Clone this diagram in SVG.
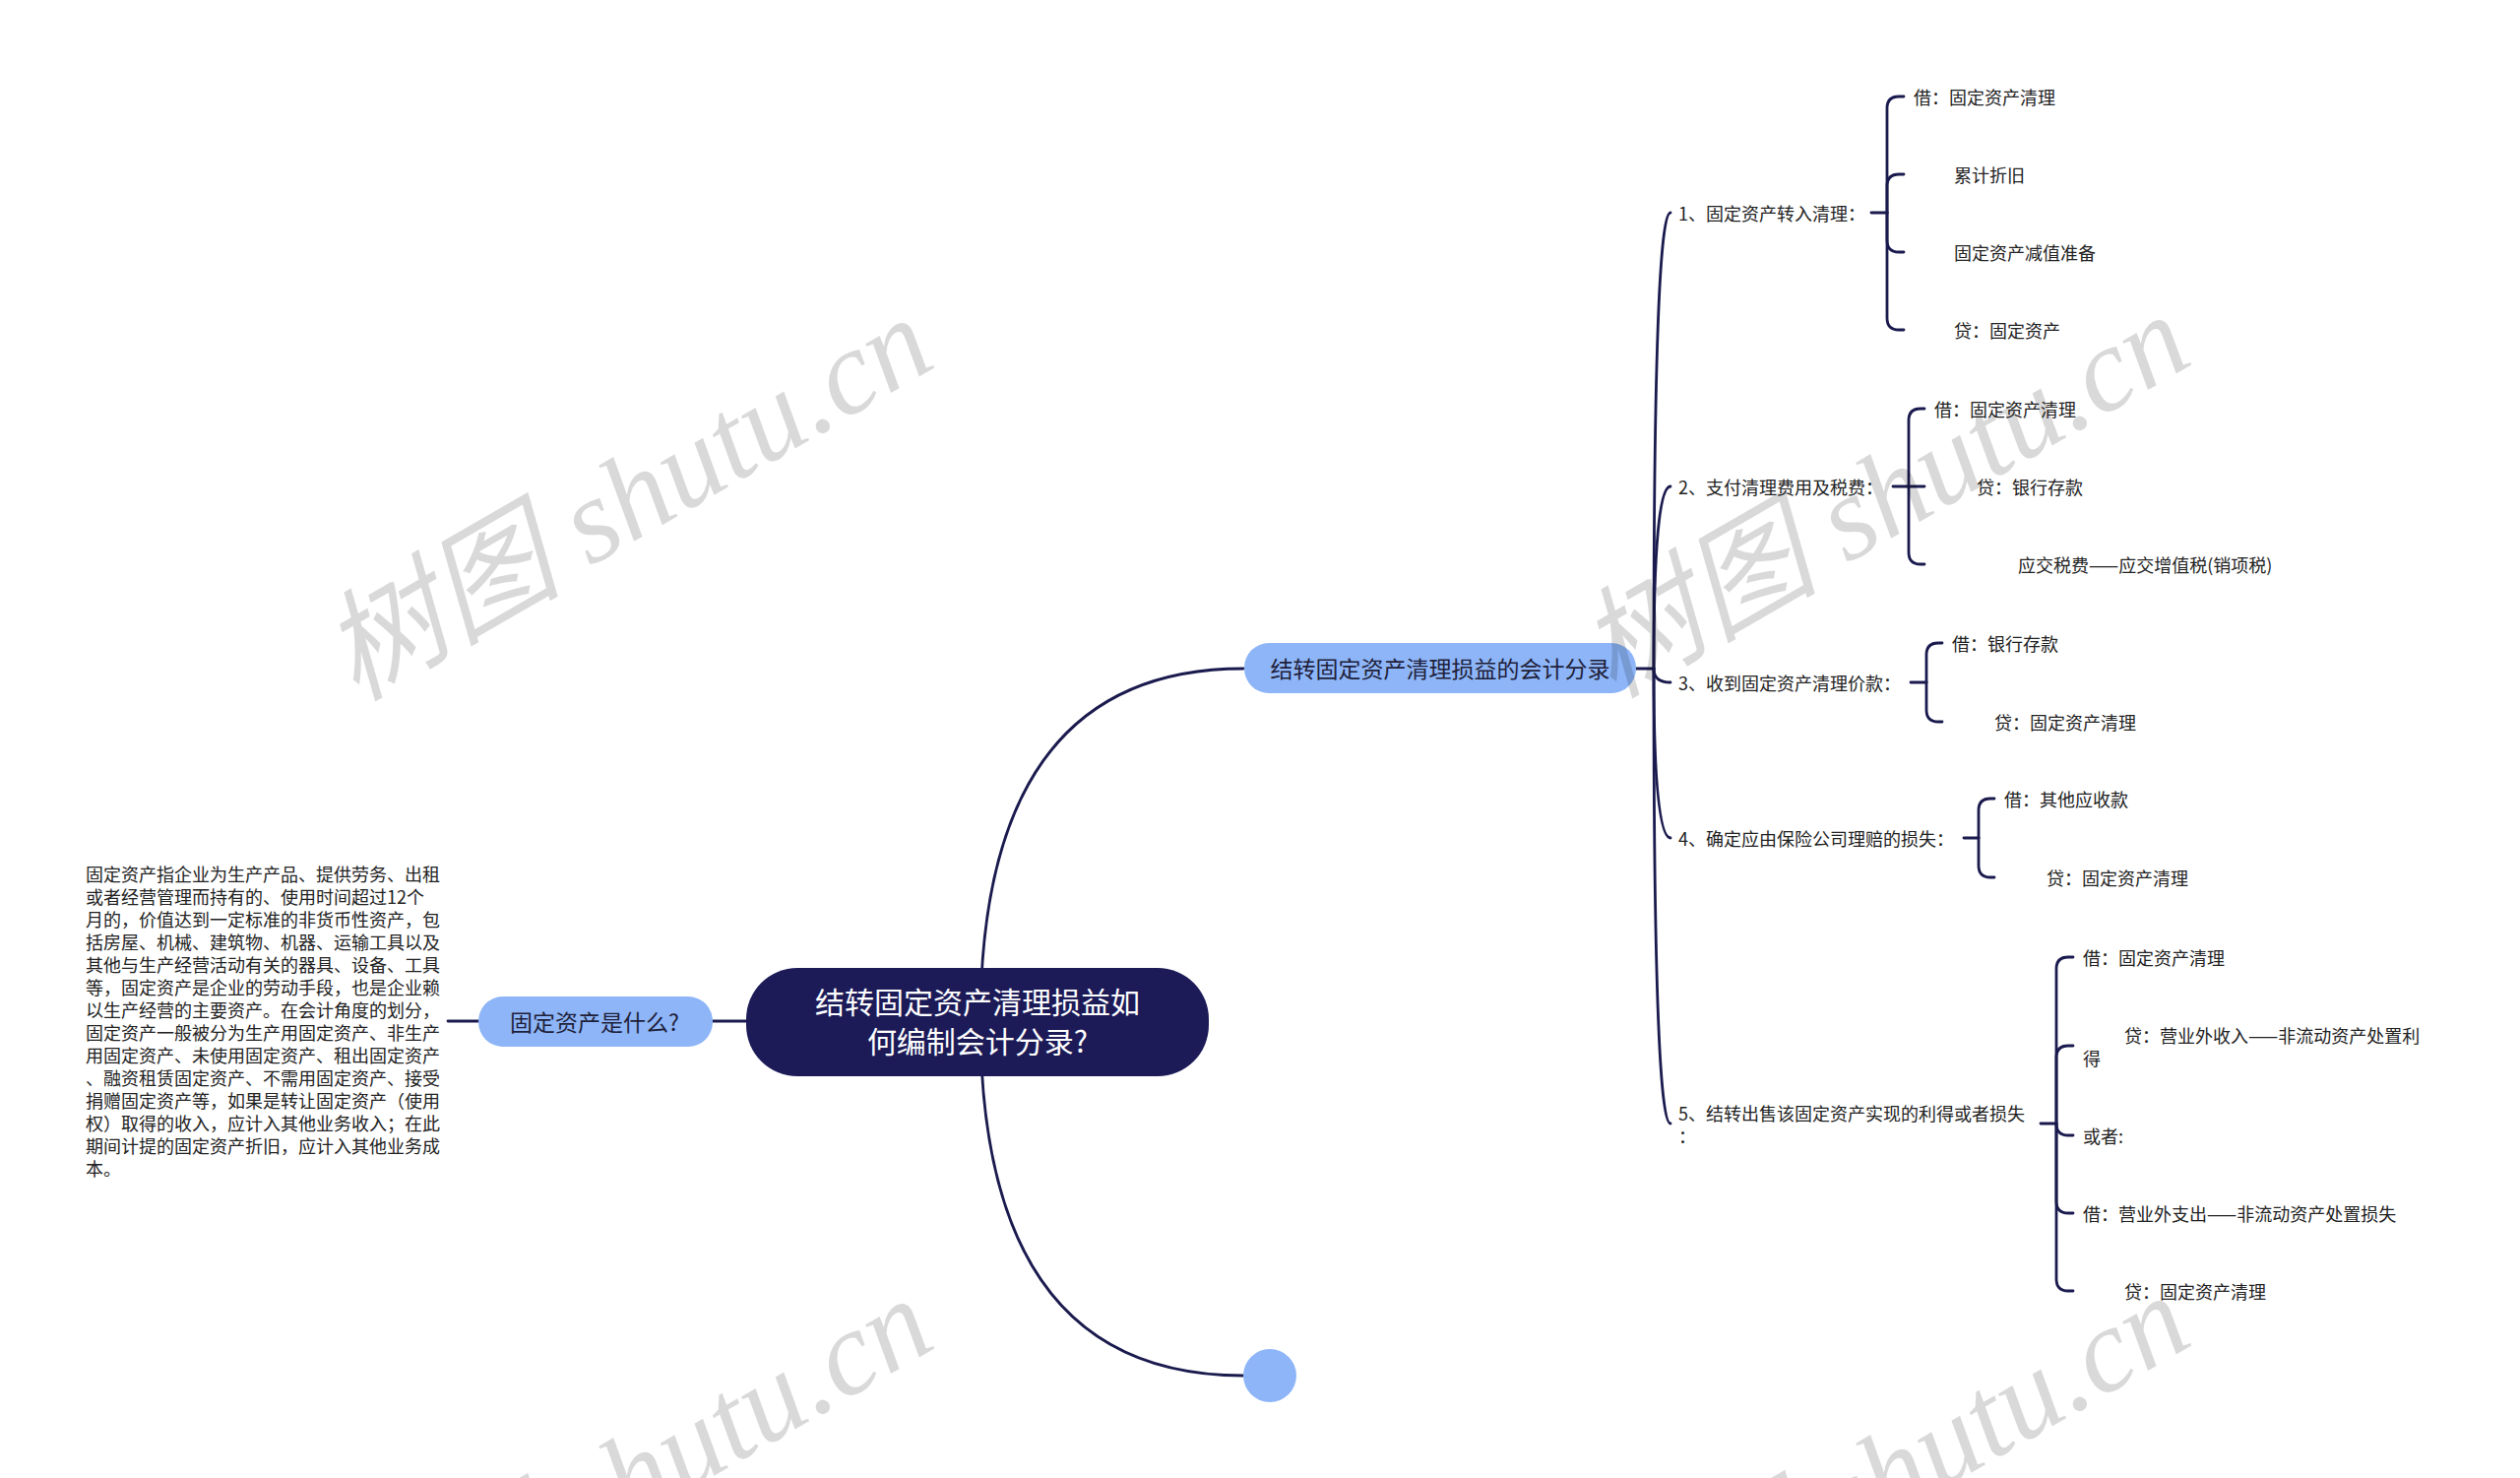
<svg xmlns="http://www.w3.org/2000/svg" width="2560" height="1501" viewBox="0 0 2560 1501">
<style>
.ln{fill:none;stroke:#1a1a4e;stroke-width:2.8;stroke-linecap:round}
.t{font-family:"Noto Sans CJK SC","Noto Sans",sans-serif;font-size:18px;fill:#222;dominant-baseline:central}
.blue{fill:#8db5f8}
.nt{font-family:"Noto Sans CJK SC","Noto Sans",sans-serif;fill:#1f1f3a;dominant-baseline:central;text-anchor:middle}
.wm{font-family:"Liberation Serif","Noto Sans CJK SC",serif;font-style:italic;font-size:122px;fill:#000;fill-opacity:0.15;text-anchor:middle;dominant-baseline:central}
</style>
<rect width="2560" height="1501" fill="#fff"/>
<g id="connectors">
<path class="ln" d="M996 1037 Q996 679 1263 679"/>
<path class="ln" d="M996 1037 Q996 1397 1263 1397"/>
<path class="ln" d="M724 1037 H758"/>
<path class="ln" d="M455 1037 H486"/>
<path class="ln" d="M1662 679 H1680"/>
<path class="ln" d="M1680 679 Q1680 216 1697 216"/>
<path class="ln" d="M1680 679 Q1680 494 1697 494"/>
<path class="ln" d="M1680 679 Q1680 693 1697 693"/>
<path class="ln" d="M1680 679 Q1680 851 1697 851"/>
<path class="ln" d="M1680 679 Q1680 1141 1697 1141"/>
<path class="ln" d="M1901 216 H1917"/>
<path class="ln" d="M1917 216 V110 Q1917 98 1929 98 H1934"/>
<path class="ln" d="M1917 216 V189 Q1917 177 1929 177 H1934"/>
<path class="ln" d="M1917 216 V244 Q1917 256 1929 256 H1934"/>
<path class="ln" d="M1917 216 V323 Q1917 335 1929 335 H1934"/>
<path class="ln" d="M1923 494 H1955"/>
<path class="ln" d="M1939 494 V427 Q1939 415 1951 415 H1955"/>
<path class="ln" d="M1939 494 V561 Q1939 573 1951 573 H1955"/>
<path class="ln" d="M1941 693 H1957"/>
<path class="ln" d="M1957 693 V665 Q1957 653 1969 653 H1973"/>
<path class="ln" d="M1957 693 V721 Q1957 733 1969 733 H1973"/>
<path class="ln" d="M1995 851 H2010"/>
<path class="ln" d="M2010 851 V823 Q2010 811 2022 811 H2026"/>
<path class="ln" d="M2010 851 V879 Q2010 891 2022 891 H2026"/>
<path class="ln" d="M2073 1141 H2089"/>
<path class="ln" d="M2089 1141 V984 Q2089 972 2101 972 H2106"/>
<path class="ln" d="M2089 1141 V1074 Q2089 1062 2101 1062 H2106"/>
<path class="ln" d="M2089 1141 V1141 Q2089 1153 2101 1153 H2106"/>
<path class="ln" d="M2089 1141 V1220 Q2089 1232 2101 1232 H2106"/>
<path class="ln" d="M2089 1141 V1299 Q2089 1311 2101 1311 H2106"/>
</g>
<g id="root">
<rect x="758" y="983" width="470" height="110" rx="52" fill="#1c1b58"/>
<text class="nt" x="993" y="1016" font-size="30" style="fill:#fff">结转固定资产清理损益如</text>
<text class="nt" x="993" y="1056" font-size="30" style="fill:#fff">何编制会计分录?</text>
</g>
<g id="n-what">
<rect class="blue" x="486" y="1012" width="238" height="51" rx="25"/>
<text class="nt" x="604" y="1037" font-size="23">固定资产是什么?</text>
</g>
<g id="n-what-desc">
<text class="t"><tspan x="87" y="887">固定资产指企业为生产产品、提供劳务、出租</tspan><tspan x="87" y="910">或者经营管理而持有的、使用时间超过12个</tspan><tspan x="87" y="933">月的，价值达到一定标准的非货币性资产，包</tspan><tspan x="87" y="956">括房屋、机械、建筑物、机器、运输工具以及</tspan><tspan x="87" y="979">其他与生产经营活动有关的器具、设备、工具</tspan><tspan x="87" y="1002">等，固定资产是企业的劳动手段，也是企业赖</tspan><tspan x="87" y="1025">以生产经营的主要资产。在会计角度的划分，</tspan><tspan x="87" y="1048">固定资产一般被分为生产用固定资产、非生产</tspan><tspan x="87" y="1071">用固定资产、未使用固定资产、租出固定资产</tspan><tspan x="87" y="1094">、融资租赁固定资产、不需用固定资产、接受</tspan><tspan x="87" y="1117">捐赠固定资产等，如果是转让固定资产（使用</tspan><tspan x="87" y="1140">权）取得的收入，应计入其他业务收入；在此</tspan><tspan x="87" y="1163">期间计提的固定资产折旧，应计入其他业务成</tspan><tspan x="87" y="1186">本。</tspan></text>
</g>
<g id="n-entries">
<rect class="blue" x="1264" y="653" width="398" height="51" rx="25"/>
<text class="nt" x="1463" y="678" font-size="23">结转固定资产清理损益的会计分录</text>
</g>
<g id="n-empty">
<circle class="blue" cx="1290" cy="1397" r="27"/>
</g>
<g id="item1">
<text class="t" x="1705" y="216">1、固定资产转入清理：</text>
<text class="t" x="1944" y="98">借：固定资产清理</text>
<text class="t" x="1985" y="177">累计折旧</text>
<text class="t" x="1985" y="256">固定资产减值准备</text>
<text class="t" x="1985" y="335">贷：固定资产</text>
</g>
<g id="item2">
<text class="t" x="1705" y="494">2、支付清理费用及税费：</text>
<text class="t" x="1965" y="415">借：固定资产清理</text>
<text class="t" x="2008" y="494">贷：银行存款</text>
<text class="t" x="2050" y="573">应交税费——应交增值税(销项税)</text>
</g>
<g id="item3">
<text class="t" x="1705" y="693">3、收到固定资产清理价款：</text>
<text class="t" x="1983" y="653">借：银行存款</text>
<text class="t" x="2026" y="733">贷：固定资产清理</text>
</g>
<g id="item4">
<text class="t" x="1705" y="851">4、确定应由保险公司理赔的损失：</text>
<text class="t" x="2036" y="811">借：其他应收款</text>
<text class="t" x="2079" y="891">贷：固定资产清理</text>
</g>
<g id="item5">
<text class="t" x="1705" y="1130">5、结转出售该固定资产实现的利得或者损失</text>
<text class="t" x="1705" y="1153">：</text>
<text class="t" x="2116" y="972">借：固定资产清理</text>
<text class="t" x="2158" y="1051">贷：营业外收入——非流动资产处置利</text>
<text class="t" x="2116" y="1074">得</text>
<text class="t" x="2116" y="1153">或者:</text>
<text class="t" x="2116" y="1232">借：营业外支出——非流动资产处置损失</text>
<text class="t" x="2158" y="1311">贷：固定资产清理</text>
</g>
<g id="watermarks">
<text class="wm" transform="translate(637 506) rotate(-30)">树图 shutu.cn</text>
<text class="wm" transform="translate(1914 503) rotate(-30)">树图 shutu.cn</text>
<text class="wm" transform="translate(637 1502) rotate(-30)">树图 shutu.cn</text>
<text class="wm" transform="translate(1914 1499) rotate(-30)">树图 shutu.cn</text>
</g>
</svg>
